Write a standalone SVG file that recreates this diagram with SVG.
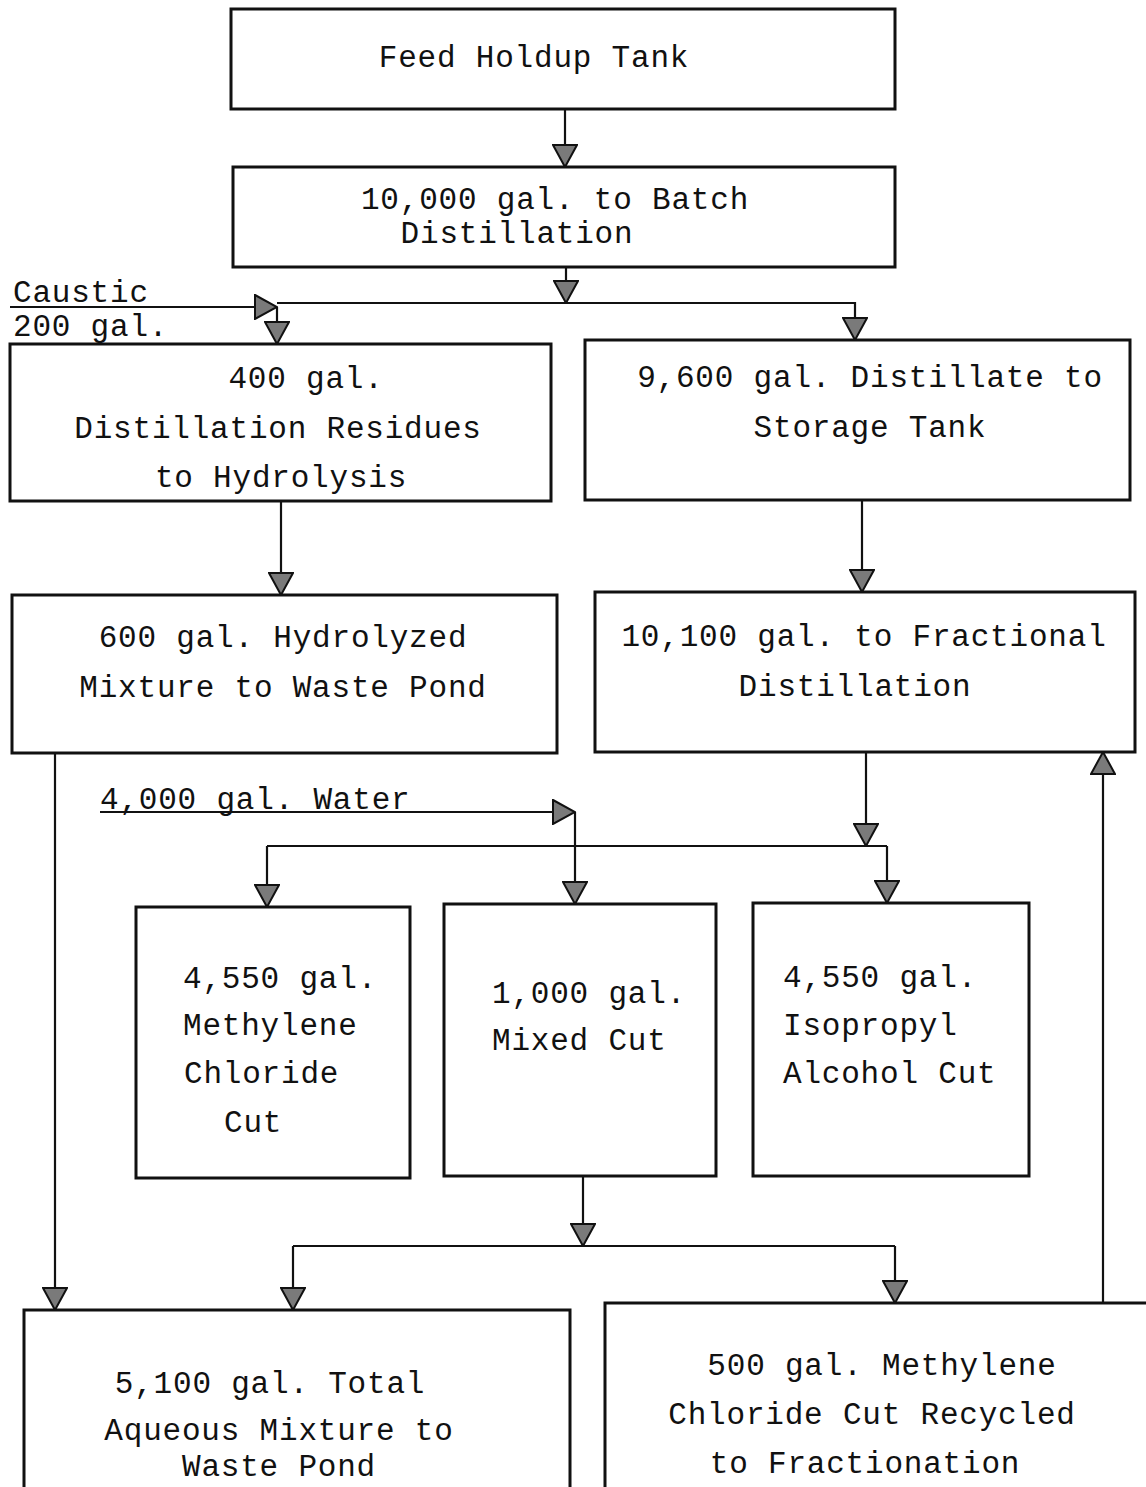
<svg xmlns="http://www.w3.org/2000/svg" width="1146" height="1487" viewBox="0 0 1146 1487">
<style>
.box{fill:none;stroke:#111;stroke-width:3}
.c{fill:none;stroke:#111;stroke-width:2.2}
text{font-family:"Liberation Mono","Courier New",monospace;font-size:31px;letter-spacing:0.8px;fill:#111}
.m{text-anchor:middle}
</style>
<defs>
<marker id="ah" viewBox="0 0 24 26" markerWidth="24" markerHeight="26" refX="23" refY="13" orient="auto" markerUnits="userSpaceOnUse">
<path d="M1,1 L23,13 L1,25 Z" fill="#7a7a7a" stroke="#111" stroke-width="2"/>
</marker>
</defs>
<rect width="1146" height="1487" fill="#fff"/>
<g id="connectors">
<path class="c" d="M565,109 V167" marker-end="url(#ah)"/>
<path class="c" d="M566,267 V303" marker-end="url(#ah)"/>
<path class="c" d="M277,303 H855 V340" marker-end="url(#ah)"/>
<path class="c" d="M10,307 H277" marker-end="url(#ah)"/>
<path class="c" d="M277,307 V344" marker-end="url(#ah)"/>
<path class="c" d="M281,501 V595" marker-end="url(#ah)"/>
<path class="c" d="M862,500 V592" marker-end="url(#ah)"/>
<path class="c" d="M866,752 V846" marker-end="url(#ah)"/>
<path class="c" d="M267,846 H887"/>
<path class="c" d="M267,846 V907" marker-end="url(#ah)"/>
<path class="c" d="M887,846 V903" marker-end="url(#ah)"/>
<path class="c" d="M100,812 H575" marker-end="url(#ah)"/>
<path class="c" d="M575,812 V904" marker-end="url(#ah)"/>
<path class="c" d="M55,753 V1310" marker-end="url(#ah)"/>
<path class="c" d="M583,1176 V1246" marker-end="url(#ah)"/>
<path class="c" d="M293,1246 H895"/>
<path class="c" d="M293,1246 V1310" marker-end="url(#ah)"/>
<path class="c" d="M895,1246 V1303" marker-end="url(#ah)"/>
<path class="c" d="M1103,1303 V752" marker-end="url(#ah)"/>
</g>
<g id="labels">
<text x="13" y="302">Caustic</text>
<text x="13" y="336">200 gal.</text>
<text x="100" y="809">4,000 gal. Water</text>
</g>
<g id="feed-holdup-tank">
<rect class="box" x="231" y="9" width="664" height="100"/>
<text class="m" x="534" y="67">Feed Holdup Tank</text>
</g>
<g id="batch-distillation">
<rect class="box" x="233" y="167" width="662" height="100"/>
<text class="m" x="555" y="209">10,000 gal. to Batch</text>
<text class="m" x="517" y="243">Distillation</text>
</g>
<g id="residues">
<rect class="box" x="10" y="344" width="541" height="157"/>
<text class="m" x="306" y="388">400 gal.</text>
<text class="m" x="278" y="438">Distillation Residues</text>
<text class="m" x="281" y="487">to Hydrolysis</text>
</g>
<g id="distillate">
<rect class="box" x="585" y="340" width="545" height="160"/>
<text class="m" x="870" y="387">9,600 gal. Distillate to</text>
<text class="m" x="870" y="437">Storage Tank</text>
</g>
<g id="hydrolyzed">
<rect class="box" x="12" y="595" width="545" height="158"/>
<text class="m" x="283" y="647">600 gal. Hydrolyzed</text>
<text class="m" x="283" y="697">Mixture to Waste Pond</text>
</g>
<g id="fractional">
<rect class="box" x="595" y="592" width="540" height="160"/>
<text class="m" x="864" y="646">10,100 gal. to Fractional</text>
<text class="m" x="855" y="696">Distillation</text>
</g>
<g id="methylene-cut">
<rect class="box" x="136" y="907" width="274" height="271"/>
<text x="183" y="988">4,550 gal.</text>
<text x="183" y="1035">Methylene</text>
<text x="184" y="1083">Chloride</text>
<text x="224" y="1132">Cut</text>
</g>
<g id="mixed-cut">
<rect class="box" x="444" y="904" width="272" height="272"/>
<text x="492" y="1003">1,000 gal.</text>
<text x="492" y="1050">Mixed Cut</text>
</g>
<g id="isopropyl-cut">
<rect class="box" x="753" y="903" width="276" height="273"/>
<text x="783" y="987">4,550 gal.</text>
<text x="783" y="1035">Isopropyl</text>
<text x="783" y="1083">Alcohol Cut</text>
</g>
<g id="aqueous-total">
<rect class="box" x="24" y="1310" width="546" height="190"/>
<text class="m" x="270" y="1393">5,100 gal. Total</text>
<text class="m" x="279" y="1440">Aqueous Mixture to</text>
<text class="m" x="279" y="1476">Waste Pond</text>
</g>
<g id="recycled">
<rect class="box" x="605" y="1303" width="560" height="200"/>
<text class="m" x="882" y="1375">500 gal. Methylene</text>
<text class="m" x="872" y="1424">Chloride Cut Recycled</text>
<text class="m" x="865" y="1473">to Fractionation</text>
</g>
</svg>
